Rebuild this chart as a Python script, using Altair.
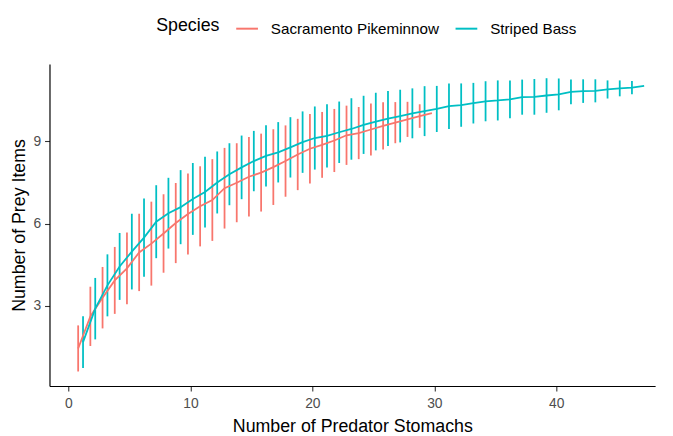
import altair as alt
import pandas as pd

species = ["Sacramento Pikeminnow", "Striped Bass"]
colors = ["#F8766D", "#00BFC4"]

stomachs_pm = list(range(1, 31))
mean_pm = [1.45, 2.62, 3.30, 3.93, 4.37, 4.95, 5.27, 5.64, 6.02, 6.35,
           6.63, 6.86, 7.29, 7.49, 7.71, 7.86, 8.06, 8.28, 8.52, 8.73,
           8.87, 9.03, 9.22, 9.30, 9.43, 9.56, 9.68, 9.80, 9.92, 10.03]
sd_pm = [0.84, 1.08, 1.12, 1.22, 1.31, 1.41, 1.53, 1.43, 1.46, 1.48,
         1.46, 1.49, 1.47, 1.44, 1.45, 1.42, 1.38, 1.30, 1.30, 1.27,
         1.20, 1.15, 1.08, 0.95, 0.95, 0.86, 0.75, 0.64, 0.43, 0.0]

stomachs_sb = list(range(1, 48))
mean_sb = [1.68, 2.90, 3.75, 4.44, 4.98, 5.49, 6.07, 6.38, 6.60, 6.90,
           7.15, 7.50, 7.80, 8.05, 8.28, 8.47, 8.60, 8.78, 8.97, 9.12,
           9.20, 9.33, 9.45, 9.60, 9.72, 9.83, 9.92, 10.02, 10.10, 10.18,
           10.28, 10.32, 10.39, 10.46, 10.49, 10.53, 10.61, 10.62, 10.67, 10.71,
           10.80, 10.83, 10.84, 10.89, 10.93, 10.96, 11.02]
sd_sb = [0.94, 1.12, 1.13, 1.22, 1.38, 1.43, 1.33, 1.29, 1.35, 1.31,
         1.29, 1.13, 1.13, 1.16, 1.10, 1.12, 1.10, 1.10, 1.12, 1.15,
         1.15, 1.12, 1.12, 1.06, 1.05, 1.00, 0.96, 0.91, 0.91, 0.84,
         0.83, 0.79, 0.74, 0.73, 0.73, 0.69, 0.64, 0.65, 0.63, 0.58,
         0.45, 0.43, 0.42, 0.33, 0.29, 0.24, 0.0]

df = pd.concat([
    pd.DataFrame({"n": stomachs_pm, "mean": mean_pm, "sd": sd_pm, "Species": species[0]}),
    pd.DataFrame({"n": stomachs_sb, "mean": mean_sb, "sd": sd_sb, "Species": species[1]}),
], ignore_index=True)

FONT = "Liberation Sans"

base = alt.Chart(df).transform_calculate(
    xd="datum.n + (datum.Species == 'Sacramento Pikeminnow' ? -0.2 : 0.2)",
    lo="datum.mean - datum.sd",
    hi="datum.mean + datum.sd",
)

xenc = alt.X(
    "xd:Q",
    scale=alt.Scale(domain=[-1.55, 48.1], nice=False, zero=False),
    axis=alt.Axis(values=[0, 10, 20, 30, 40], title="Number of Predator Stomachs"),
)
yscale = alt.Scale(domain=[0.08, 11.82], nice=False, zero=False)
yaxis = alt.Axis(values=[3, 6, 9], title="Number of Prey Items")

legend = alt.Legend(
    title="Species",
    orient="none",
    legendX=108,
    legendY=-48,
    direction="horizontal",
    titleOrient="left",
    symbolType="stroke",
    symbolSize=484,
    symbolStrokeWidth=2,
    labelFontSize=15.4,
    labelLimit=400,
    titleFontSize=18,
    titleFontWeight="normal",
    titleColor="black",
    labelColor="black",
    labelOffset=12,
    columnPadding=12,
    titlePadding=15,
    labelFont=FONT,
    titleFont=FONT,
)
color = alt.Color("Species:N", scale=alt.Scale(domain=species, range=colors), legend=legend)

rules = base.mark_rule(strokeWidth=1.8).encode(
    x=xenc,
    y=alt.Y("lo:Q", scale=yscale, axis=yaxis),
    y2="hi:Q",
    color=color,
)

lines = base.mark_line(strokeWidth=1.8).encode(
    x=xenc,
    y=alt.Y("mean:Q", scale=yscale, axis=yaxis),
    color=color,
)

chart = alt.layer(rules, lines).properties(
    width=613,
    height=326,
    autosize=alt.AutoSizeParams(type="none"),
    padding={"left": 42, "top": 54, "right": 10, "bottom": 52},
).configure_view(stroke=None).configure_axis(
    grid=False,
    domainColor="black",
    domainWidth=1.2,
    tickColor="#333333",
    tickSize=5,
    tickWidth=1.1,
    labelColor="#4d4d4d",
    labelFontSize=14,
    labelFont=FONT,
    labelPadding=4,
    titleFont=FONT,
    titleFontSize=18,
    titleFontWeight="normal",
    titleColor="black",
).configure_axisX(titlePadding=7, labelPadding=6).configure_axisY(titlePadding=5)

chart.save("out.html", embed_options={"renderer": "svg", "actions": False})
